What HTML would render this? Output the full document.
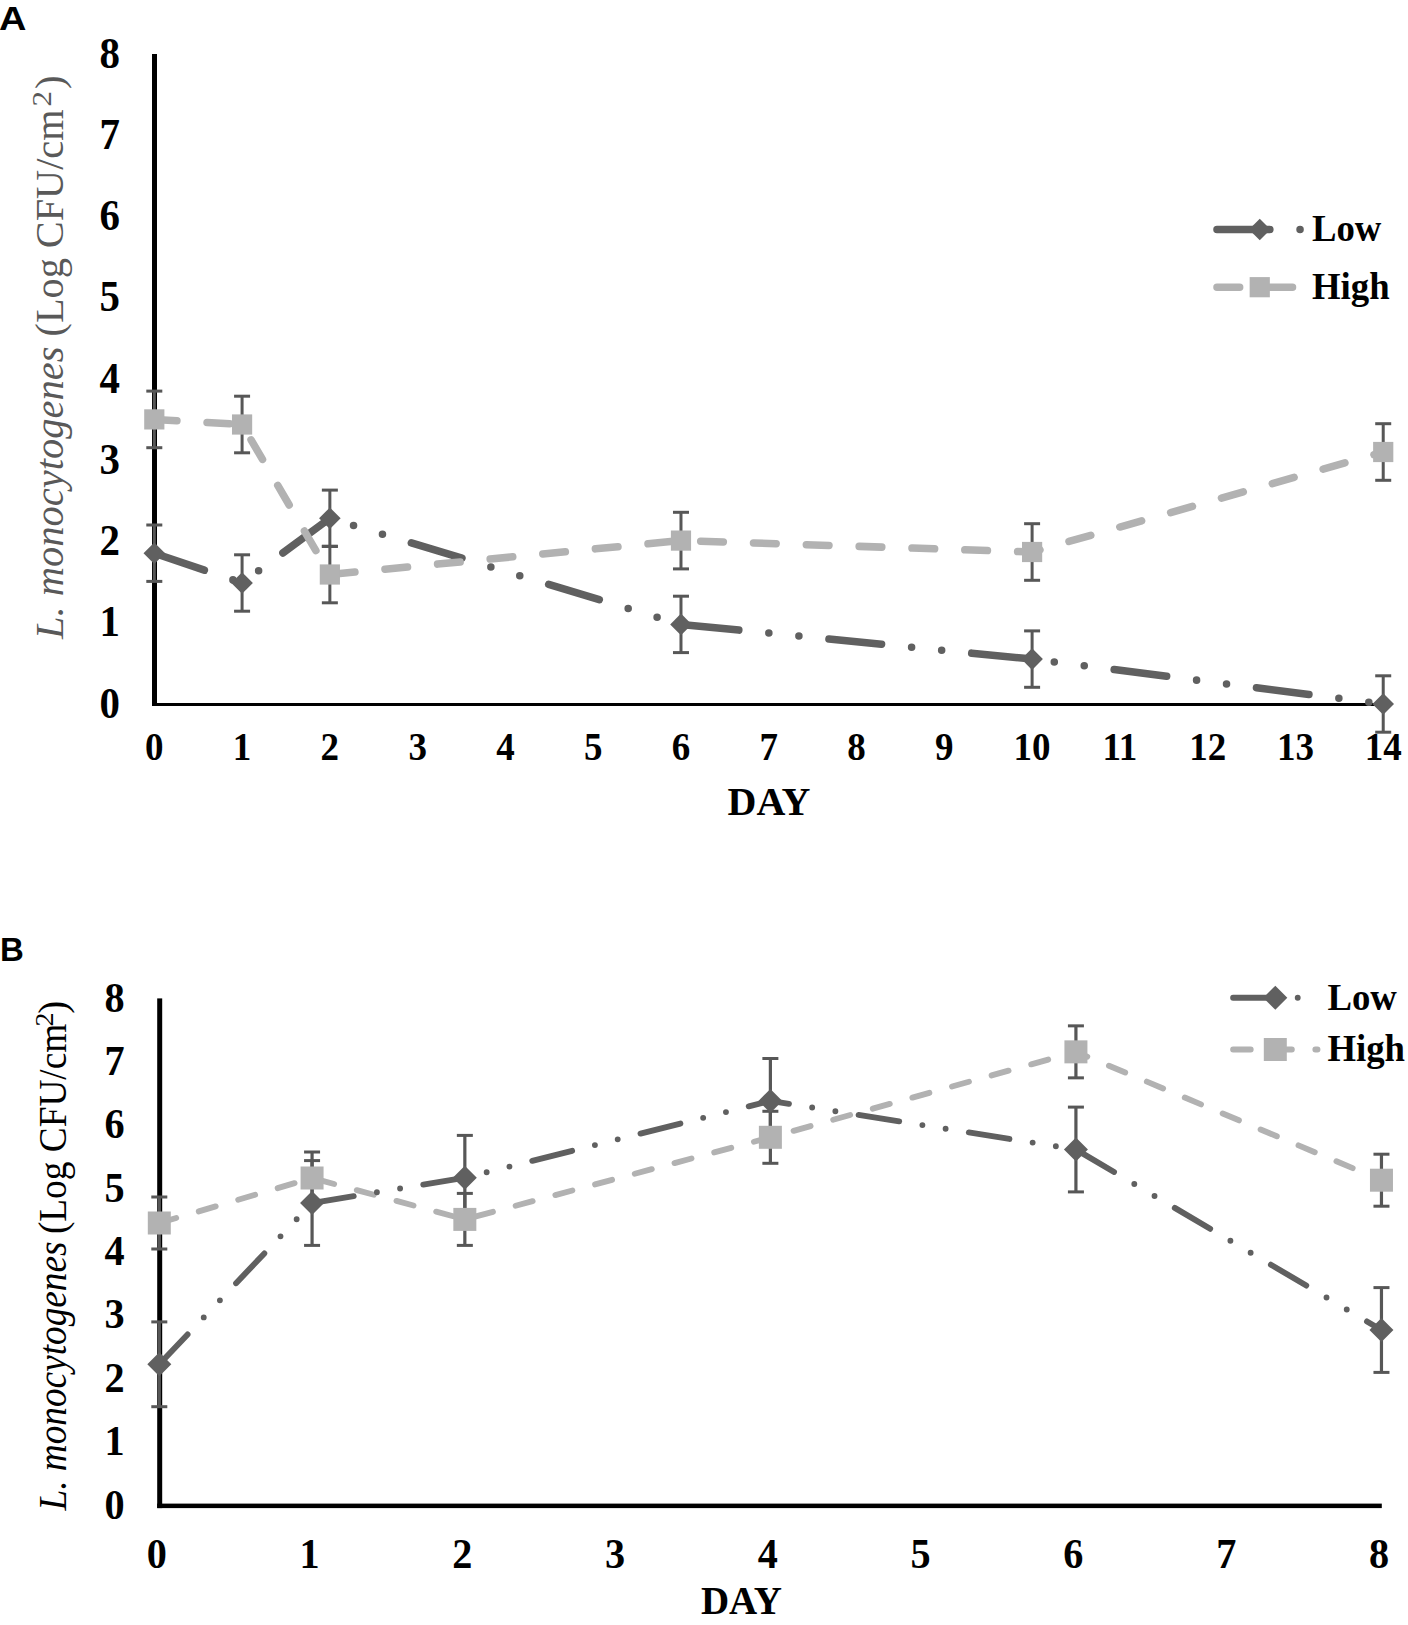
<!DOCTYPE html>
<html><head><meta charset="utf-8">
<style>
html,body{margin:0;padding:0;background:#fff;}
body{width:1408px;height:1625px;overflow:hidden;position:relative;}
svg{position:absolute;left:0;top:0;}
text{font-family:"Liberation Serif",serif;}
.yt{font-weight:bold;text-anchor:end;fill:#000;}
.xt{font-weight:bold;text-anchor:middle;fill:#000;}
.day{font-weight:bold;text-anchor:middle;fill:#000;}
.lg{font-weight:bold;font-size:37.5px;fill:#000;}
.yttl{font-weight:normal;}
.pl{font-family:"Liberation Sans",sans-serif;font-weight:bold;font-size:33px;fill:#000;}
</style></head><body>
<svg width="1408" height="1625" viewBox="0 0 1408 1625">
<rect x="152" y="54" width="5" height="652" fill="#000"/>
<rect x="152" y="703" width="1232" height="3" fill="#000"/>
<polyline points="154.3,553.2 242.08,583 329.86,518.3 680.98,624.4 1032.1,659.1 1383.22,704" fill="none" stroke="#606060" stroke-width="7.55" stroke-linecap="round" stroke-linejoin="round" stroke-dasharray="52.85 30.2 0 30.2 0 30.2"/>
<polyline points="154.3,419.4 242.08,424.5 329.86,574.5 680.98,540.6 1032.1,552 1383.22,452" fill="none" stroke="#b2b2b2" stroke-width="7.55" stroke-linecap="round" stroke-linejoin="round" stroke-dasharray="22.65 30.2"/>
<rect x="152.8" y="525" width="3" height="56.4" fill="#575757"/><rect x="146.3" y="523.5" width="16" height="3" fill="#575757"/><rect x="146.3" y="579.9" width="16" height="3" fill="#575757"/>
<rect x="240.58" y="554.8" width="3" height="56.4" fill="#575757"/><rect x="234.08" y="553.3" width="16" height="3" fill="#575757"/><rect x="234.08" y="609.7" width="16" height="3" fill="#575757"/>
<rect x="328.36" y="490.1" width="3" height="56.4" fill="#575757"/><rect x="321.86" y="488.6" width="16" height="3" fill="#575757"/><rect x="321.86" y="545" width="16" height="3" fill="#575757"/>
<rect x="679.48" y="596.2" width="3" height="56.4" fill="#575757"/><rect x="672.98" y="594.7" width="16" height="3" fill="#575757"/><rect x="672.98" y="651.1" width="16" height="3" fill="#575757"/>
<rect x="1030.6" y="630.9" width="3" height="56.4" fill="#575757"/><rect x="1024.1" y="629.4" width="16" height="3" fill="#575757"/><rect x="1024.1" y="685.8" width="16" height="3" fill="#575757"/>
<rect x="1381.72" y="675.8" width="3" height="56.4" fill="#575757"/><rect x="1375.22" y="674.3" width="16" height="3" fill="#575757"/><rect x="1375.22" y="730.7" width="16" height="3" fill="#575757"/>
<rect x="152.8" y="391.1" width="3" height="56.6" fill="#575757"/><rect x="146.3" y="389.6" width="16" height="3" fill="#575757"/><rect x="146.3" y="446.2" width="16" height="3" fill="#575757"/>
<rect x="240.58" y="396.2" width="3" height="56.6" fill="#575757"/><rect x="234.08" y="394.7" width="16" height="3" fill="#575757"/><rect x="234.08" y="451.3" width="16" height="3" fill="#575757"/>
<rect x="328.36" y="546.2" width="3" height="56.6" fill="#575757"/><rect x="321.86" y="544.7" width="16" height="3" fill="#575757"/><rect x="321.86" y="601.3" width="16" height="3" fill="#575757"/>
<rect x="679.48" y="512.3" width="3" height="56.6" fill="#575757"/><rect x="672.98" y="510.8" width="16" height="3" fill="#575757"/><rect x="672.98" y="567.4" width="16" height="3" fill="#575757"/>
<rect x="1030.6" y="523.7" width="3" height="56.6" fill="#575757"/><rect x="1024.1" y="522.2" width="16" height="3" fill="#575757"/><rect x="1024.1" y="578.8" width="16" height="3" fill="#575757"/>
<rect x="1381.72" y="423.7" width="3" height="56.6" fill="#575757"/><rect x="1375.22" y="422.2" width="16" height="3" fill="#575757"/><rect x="1375.22" y="478.8" width="16" height="3" fill="#575757"/>
<path d="M154.3 542.4L165.1 553.2L154.3 564L143.5 553.2Z" fill="#606060"/><path d="M242.08 572.2L252.88 583L242.08 593.8L231.28 583Z" fill="#606060"/><path d="M329.86 507.5L340.66 518.3L329.86 529.1L319.06 518.3Z" fill="#606060"/><path d="M680.98 613.6L691.78 624.4L680.98 635.2L670.18 624.4Z" fill="#606060"/><path d="M1032.1 648.3L1042.9 659.1L1032.1 669.9L1021.3 659.1Z" fill="#606060"/><path d="M1383.22 693.2L1394.02 704L1383.22 714.8L1372.42 704Z" fill="#606060"/>
<rect x="144.2" y="409.3" width="20.2" height="20.2" fill="#b2b2b2"/><rect x="231.98" y="414.4" width="20.2" height="20.2" fill="#b2b2b2"/><rect x="319.76" y="564.4" width="20.2" height="20.2" fill="#b2b2b2"/><rect x="670.88" y="530.5" width="20.2" height="20.2" fill="#b2b2b2"/><rect x="1022" y="541.9" width="20.2" height="20.2" fill="#b2b2b2"/><rect x="1373.12" y="441.9" width="20.2" height="20.2" fill="#b2b2b2"/>
<line x1="1217" y1="229.5" x2="1302.5" y2="229.5" stroke="#606060" stroke-width="7.55" stroke-linecap="round" stroke-dasharray="52.85 30.2 0 30.2 0 30.2"/>
<path d="M1259.75 218.7L1270.55 229.5L1259.75 240.3L1248.95 229.5Z" fill="#606060"/>
<line x1="1217" y1="287.2" x2="1302.5" y2="287.2" stroke="#b2b2b2" stroke-width="7.55" stroke-linecap="round" stroke-dasharray="22.65 30.2"/>
<rect x="1249.65" y="277.1" width="20.2" height="20.2" fill="#b2b2b2"/>
<text transform="translate(1312 241.1) scale(0.98 1)" class="lg">Low</text>
<text transform="translate(1312 298.8) scale(0.98 1)" class="lg">High</text>
<text transform="translate(120 717.5) scale(0.93 1)" class="yt" style="font-size:44px">0</text>
<text transform="translate(120 636.25) scale(0.93 1)" class="yt" style="font-size:44px">1</text>
<text transform="translate(120 555) scale(0.93 1)" class="yt" style="font-size:44px">2</text>
<text transform="translate(120 473.75) scale(0.93 1)" class="yt" style="font-size:44px">3</text>
<text transform="translate(120 392.5) scale(0.93 1)" class="yt" style="font-size:44px">4</text>
<text transform="translate(120 311.25) scale(0.93 1)" class="yt" style="font-size:44px">5</text>
<text transform="translate(120 230) scale(0.93 1)" class="yt" style="font-size:44px">6</text>
<text transform="translate(120 148.75) scale(0.93 1)" class="yt" style="font-size:44px">7</text>
<text transform="translate(120 67.5) scale(0.93 1)" class="yt" style="font-size:44px">8</text>
<text transform="translate(154.3 759.5) scale(0.93 1)" class="xt" style="font-size:39.8px">0</text>
<text transform="translate(242.08 759.5) scale(0.93 1)" class="xt" style="font-size:39.8px">1</text>
<text transform="translate(329.86 759.5) scale(0.93 1)" class="xt" style="font-size:39.8px">2</text>
<text transform="translate(417.64 759.5) scale(0.93 1)" class="xt" style="font-size:39.8px">3</text>
<text transform="translate(505.42 759.5) scale(0.93 1)" class="xt" style="font-size:39.8px">4</text>
<text transform="translate(593.2 759.5) scale(0.93 1)" class="xt" style="font-size:39.8px">5</text>
<text transform="translate(680.98 759.5) scale(0.93 1)" class="xt" style="font-size:39.8px">6</text>
<text transform="translate(768.76 759.5) scale(0.93 1)" class="xt" style="font-size:39.8px">7</text>
<text transform="translate(856.54 759.5) scale(0.93 1)" class="xt" style="font-size:39.8px">8</text>
<text transform="translate(944.32 759.5) scale(0.93 1)" class="xt" style="font-size:39.8px">9</text>
<text transform="translate(1032.1 759.5) scale(0.93 1)" class="xt" style="font-size:39.8px">10</text>
<text transform="translate(1119.88 759.5) scale(0.93 1)" class="xt" style="font-size:39.8px">11</text>
<text transform="translate(1207.66 759.5) scale(0.93 1)" class="xt" style="font-size:39.8px">12</text>
<text transform="translate(1295.44 759.5) scale(0.93 1)" class="xt" style="font-size:39.8px">13</text>
<text transform="translate(1383.22 759.5) scale(0.93 1)" class="xt" style="font-size:39.8px">14</text>
<text x="769" y="814.7" class="day" style="font-size:40px">DAY</text>
<text transform="translate(63.2 639) rotate(-90) scale(0.9885 1)" fill="#595959" style="font-size:41px" font-style="italic">L. monocytogenes</text>
<text transform="translate(63.2 336.5) rotate(-90) scale(0.9825 1)" fill="#595959" style="font-size:41px">(Log CFU/cm</text>
<text transform="translate(50.9 106.6) rotate(-90) scale(1.15 1)" fill="#595959" style="font-size:27px">2</text>
<text transform="translate(63.2 89) rotate(-90) scale(1 1)" fill="#595959" style="font-size:41px">)</text>
<text transform="translate(-1 29.8) scale(1.15 1)" class="pl">A</text>
<rect x="157.2" y="998.4" width="5" height="509.7" fill="#000"/>
<rect x="157.2" y="1503.6" width="1224.6" height="4.5" fill="#000"/>
<polyline points="159.3,1223 312.07,1178 464.84,1219.4 770.38,1137.3 1075.92,1051.85 1381.46,1180.2" fill="none" stroke="#b2b2b2" stroke-width="5.875" stroke-linecap="round" stroke-linejoin="round" stroke-dasharray="17.625 23.5"/>
<polyline points="159.3,1364.3 312.07,1203 464.84,1177.8 770.38,1100.9 1075.92,1149.5 1381.46,1330" fill="none" stroke="#606060" stroke-width="5.875" stroke-linecap="round" stroke-linejoin="round" stroke-dasharray="41.125 23.5 0 23.5 0 23.5"/>
<rect x="157.7" y="1321.9" width="3.2" height="84.8" fill="#575757"/><rect x="151.3" y="1320.4" width="16" height="3" fill="#575757"/><rect x="151.3" y="1405.2" width="16" height="3" fill="#575757"/>
<rect x="310.47" y="1160.6" width="3.2" height="84.8" fill="#575757"/><rect x="304.07" y="1159.1" width="16" height="3" fill="#575757"/><rect x="304.07" y="1243.9" width="16" height="3" fill="#575757"/>
<rect x="463.24" y="1135.4" width="3.2" height="84.8" fill="#575757"/><rect x="456.84" y="1133.9" width="16" height="3" fill="#575757"/><rect x="456.84" y="1218.7" width="16" height="3" fill="#575757"/>
<rect x="768.78" y="1058.5" width="3.2" height="84.8" fill="#575757"/><rect x="762.38" y="1057" width="16" height="3" fill="#575757"/><rect x="762.38" y="1141.8" width="16" height="3" fill="#575757"/>
<rect x="1074.32" y="1107.1" width="3.2" height="84.8" fill="#575757"/><rect x="1067.92" y="1105.6" width="16" height="3" fill="#575757"/><rect x="1067.92" y="1190.4" width="16" height="3" fill="#575757"/>
<rect x="1379.86" y="1287.6" width="3.2" height="84.8" fill="#575757"/><rect x="1373.46" y="1286.1" width="16" height="3" fill="#575757"/><rect x="1373.46" y="1370.9" width="16" height="3" fill="#575757"/>
<rect x="157.7" y="1197" width="3.2" height="52" fill="#575757"/><rect x="151.3" y="1195.5" width="16" height="3" fill="#575757"/><rect x="151.3" y="1247.5" width="16" height="3" fill="#575757"/>
<rect x="310.47" y="1152" width="3.2" height="52" fill="#575757"/><rect x="304.07" y="1150.5" width="16" height="3" fill="#575757"/><rect x="304.07" y="1202.5" width="16" height="3" fill="#575757"/>
<rect x="463.24" y="1193.4" width="3.2" height="52" fill="#575757"/><rect x="456.84" y="1191.9" width="16" height="3" fill="#575757"/><rect x="456.84" y="1243.9" width="16" height="3" fill="#575757"/>
<rect x="768.78" y="1111.3" width="3.2" height="52" fill="#575757"/><rect x="762.38" y="1109.8" width="16" height="3" fill="#575757"/><rect x="762.38" y="1161.8" width="16" height="3" fill="#575757"/>
<rect x="1074.32" y="1025.85" width="3.2" height="52" fill="#575757"/><rect x="1067.92" y="1024.35" width="16" height="3" fill="#575757"/><rect x="1067.92" y="1076.35" width="16" height="3" fill="#575757"/>
<rect x="1379.86" y="1154.2" width="3.2" height="52" fill="#575757"/><rect x="1373.46" y="1152.7" width="16" height="3" fill="#575757"/><rect x="1373.46" y="1204.7" width="16" height="3" fill="#575757"/>
<rect x="147.8" y="1211.5" width="23" height="23" fill="#b2b2b2"/><rect x="300.57" y="1166.5" width="23" height="23" fill="#b2b2b2"/><rect x="453.34" y="1207.9" width="23" height="23" fill="#b2b2b2"/><rect x="758.88" y="1125.8" width="23" height="23" fill="#b2b2b2"/><rect x="1064.42" y="1040.35" width="23" height="23" fill="#b2b2b2"/><rect x="1369.96" y="1168.7" width="23" height="23" fill="#b2b2b2"/>
<path d="M159.3 1352.3L171.3 1364.3L159.3 1376.3L147.3 1364.3Z" fill="#606060"/><path d="M312.07 1191L324.07 1203L312.07 1215L300.07 1203Z" fill="#606060"/><path d="M464.84 1165.8L476.84 1177.8L464.84 1189.8L452.84 1177.8Z" fill="#606060"/><path d="M770.38 1088.9L782.38 1100.9L770.38 1112.9L758.38 1100.9Z" fill="#606060"/><path d="M1075.92 1137.5L1087.92 1149.5L1075.92 1161.5L1063.92 1149.5Z" fill="#606060"/><path d="M1381.46 1318L1393.46 1330L1381.46 1342L1369.46 1330Z" fill="#606060"/>
<line x1="1233.1" y1="997.7" x2="1317.5" y2="997.7" stroke="#606060" stroke-width="5.875" stroke-linecap="round" stroke-dasharray="41.125 23.5 0 23.5 0 23.5"/>
<path d="M1275.3 985.7L1287.3 997.7L1275.3 1009.7L1263.3 997.7Z" fill="#606060"/>
<line x1="1233.1" y1="1049.5" x2="1317.5" y2="1049.5" stroke="#b2b2b2" stroke-width="5.875" stroke-linecap="round" stroke-dasharray="17.625 23.5"/>
<rect x="1263.8" y="1038" width="23" height="23" fill="#b2b2b2"/>
<text transform="translate(1327.4 1010.1) scale(0.98 1)" class="lg">Low</text>
<text transform="translate(1327.4 1060.7) scale(0.98 1)" class="lg">High</text>
<text transform="translate(124.5 1518.5) scale(0.94 1)" class="yt" style="font-size:42.8px">0</text>
<text transform="translate(124.5 1455.16) scale(0.94 1)" class="yt" style="font-size:42.8px">1</text>
<text transform="translate(124.5 1391.82) scale(0.94 1)" class="yt" style="font-size:42.8px">2</text>
<text transform="translate(124.5 1328.48) scale(0.94 1)" class="yt" style="font-size:42.8px">3</text>
<text transform="translate(124.5 1265.14) scale(0.94 1)" class="yt" style="font-size:42.8px">4</text>
<text transform="translate(124.5 1201.8) scale(0.94 1)" class="yt" style="font-size:42.8px">5</text>
<text transform="translate(124.5 1138.46) scale(0.94 1)" class="yt" style="font-size:42.8px">6</text>
<text transform="translate(124.5 1075.12) scale(0.94 1)" class="yt" style="font-size:42.8px">7</text>
<text transform="translate(124.5 1011.78) scale(0.94 1)" class="yt" style="font-size:42.8px">8</text>
<text transform="translate(156.8 1567.5) scale(0.94 1)" class="xt" style="font-size:42.8px">0</text>
<text transform="translate(309.57 1567.5) scale(0.94 1)" class="xt" style="font-size:42.8px">1</text>
<text transform="translate(462.34 1567.5) scale(0.94 1)" class="xt" style="font-size:42.8px">2</text>
<text transform="translate(615.11 1567.5) scale(0.94 1)" class="xt" style="font-size:42.8px">3</text>
<text transform="translate(767.88 1567.5) scale(0.94 1)" class="xt" style="font-size:42.8px">4</text>
<text transform="translate(920.65 1567.5) scale(0.94 1)" class="xt" style="font-size:42.8px">5</text>
<text transform="translate(1073.42 1567.5) scale(0.94 1)" class="xt" style="font-size:42.8px">6</text>
<text transform="translate(1226.19 1567.5) scale(0.94 1)" class="xt" style="font-size:42.8px">7</text>
<text transform="translate(1378.96 1567.5) scale(0.94 1)" class="xt" style="font-size:42.8px">8</text>
<text x="741.4" y="1614.2" class="day" style="font-size:39px">DAY</text>
<text transform="translate(65.6 1510.6) rotate(-90) scale(0.956 1)" fill="#000" style="font-size:39px" font-style="italic">L. monocytogenes</text>
<text transform="translate(65.6 1234.1) rotate(-90) scale(0.957 1)" fill="#000" style="font-size:39px">(Log CFU/cm</text>
<text transform="translate(53.2 1026.4) rotate(-90) scale(1.1 1)" fill="#000" style="font-size:25.5px">2</text>
<text transform="translate(65.6 1013.8) rotate(-90) scale(1 1)" fill="#000" style="font-size:39px">)</text>
<text transform="translate(0 960.9) scale(1 1)" class="pl">B</text>
</svg>
</body></html>
